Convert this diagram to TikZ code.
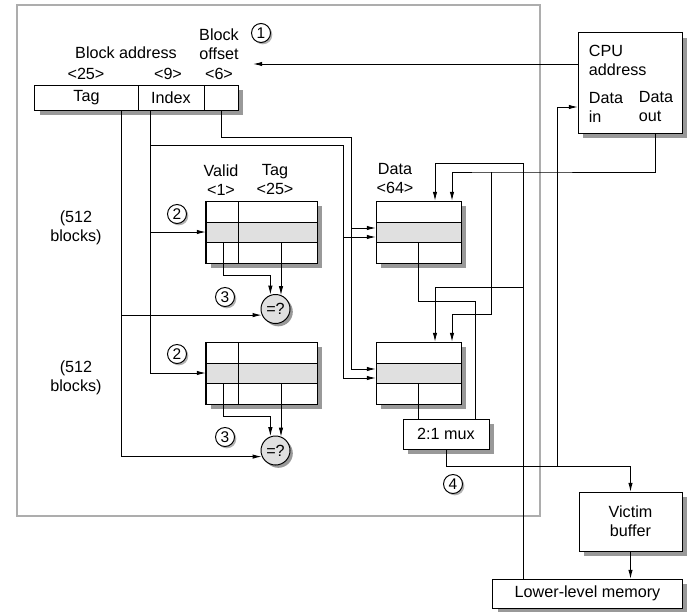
\documentclass[tikz,border=0pt]{standalone}
\usepackage{fontspec}
\setmainfont{Liberation Sans}
\usepackage{tikz}
\usetikzlibrary{arrows.meta,calc,shadows}
\tikzset{
  block/.style={
    draw,
    fill=white,
    inner sep=0,
    outer sep=0,
    drop shadow={shadow xshift=3.5pt, shadow yshift=-3.5pt, fill=black!40, opacity=1}
  },
  num/.style={
    draw,
    circle,
    fill=white,
    inner sep=0,
    minimum size=0.475cm,
    font=\fontsize{11}{13}\selectfont,
    drop shadow={shadow xshift=1.3pt, shadow yshift=-1.3pt, fill=black!30, opacity=1}
  },
  cmp/.style={
    draw,
    circle,
    fill=black!12,
    inner sep=0,
    minimum size=0.725cm,
    drop shadow={shadow xshift=2pt, shadow yshift=-2pt, fill=black!40, opacity=1}
  },
  lbl/.style={
    inner sep=1pt,
    align=center
  },
  arr/.style={-{Latex[length=2.3mm,width=1.1mm]}},
  rowfill/.style={fill=black!12},
  frame/.style={draw=black!32, line width=2pt}
}
\tikzset{
  tagarr/.pic={
    \node[block, minimum width=2.775cm, minimum height=1.55cm] (-box) at (55.5,31) {};
    \fill[rowfill] (0,21) rectangle (111,41);
    \draw (0,0) rectangle (111,62) (0,21) -- (111,21) (0,41) -- (111,41) (32,0) -- (32,62);
    \coordinate (-v) at (17,41);
    \coordinate (-t) at (75,41);
  },
  dataarr/.pic={
    \node[block, minimum width=2.125cm, minimum height=1.55cm] (-box) at (42.5,31) {};
    \fill[rowfill] (0,21) rectangle (85,41);
    \draw (0,0) rectangle (85,62) (0,21) -- (85,21) (0,41) -- (85,41);
    \coordinate (-o) at (42,41);
    \coordinate (-a) at (0,27);
    \coordinate (-b) at (0,36);
    \coordinate (-m) at (59,0);
    \coordinate (-d) at (76,0);
  }
}

\begin{document}
\begin{tikzpicture}[x=0.025cm, y=-0.025cm, line width=0.7pt, font=\fontsize{11.5}{13.5}\selectfont]
        \useasboundingbox (0,0) rectangle (689,611);
        \draw[frame] (17,5) rectangle (540,516);
        % address
        \node[block, minimum width=2.575cm, minimum height=0.625cm] (tagf) at (86.5,97.5) {Tag};
        \node[block, minimum width=1.65cm, minimum height=0.625cm] (idxf) at (171,97.5) {Index};
        \node[block, minimum width=0.85cm, minimum height=0.625cm] (offf) at (221,97.5) {};
        \node[lbl] (blkaddr) at (126,53) {Block address};
        \node[lbl] (w25) at (86,74) {<25>};
        \node[lbl] (w9) at (168,74) {<9>};
        \node[lbl] (w6) at (219,74) {<6>};
        \node[lbl] (blkoff) at (219,44) {Block\\offset};
        \node[num] (n1) at (261,33) {1};
        % arrays
        \pic (ta1) at (206,201) {tagarr};
        \pic (ta2) at (206,342) {tagarr};
        \pic (da1) at (376,201) {dataarr};
        \pic (da2) at (376,342) {dataarr};
        \node[lbl] (valid) at (221,180) {Valid\\<1>};
        \node[lbl] (tagw) at (275,180) {Tag\\<25>};
        \node[lbl] (dataw) at (395,179) {Data\\<64>};
        \node[lbl] (blk1) at (76,228) {(512\\blocks)};
        \node[lbl] (blk2) at (76,378) {(512\\blocks)};
        \node[cmp] (cmp1) at (275.5,309) {=?};
        \node[cmp] (cmp2) at (275.5,450.5) {=?};
        \node[num] (n2a) at (177,214) {2};
        \node[num] (n2b) at (177,354) {2};
        \node[num] (n3a) at (225,297) {3};
        \node[num] (n3b) at (225,437) {3};
        \node[num] (n4) at (453,484) {4};
        \node[block, minimum width=2.15cm, minimum height=0.75cm] (mux) at (446,434) {2:1 mux};
        % outside
        \node[block, minimum width=2.6cm, minimum height=2.5cm] (cpu) at (630,83) {};
        \node[lbl, anchor=west, align=left] (cpulbl) at (587,60) {CPU\\address};
        \node[lbl, anchor=west, align=left] (din) at (587,107) {Data\\in};
        \node[lbl, anchor=west, align=left] (dout) at (637,107) {Data\\out};
        \node[block, minimum width=2.575cm, minimum height=1.475cm, align=center] (victim) at (630.5,521.5) {Victim\\buffer};
        \node[block, minimum width=4.725cm, minimum height=0.725cm] (mem) at (587.5,593.5) {Lower-level memory};
        % bus points
        \coordinate (addrin) at (253,64);
        \coordinate (tagbus) at (121,110);
        \coordinate (idxbus) at (150,110);
        \coordinate (idxd) at (343,145);
        \coordinate (offd) at (351,137);
        \coordinate (doutbus) at (491,172);
        \coordinate (membus) at (523,287);
        \coordinate (dinbus) at (557,466);
        % connectors
        \draw[arr] (cpu.west |- addrin) -- (addrin);
        \draw[arr] (tagbus) |- (cmp1.204);
        \draw[arr] (tagbus) |- (cmp2.204);
        \draw[arr] (idxbus) |- (ta1-box.west);
        \draw[arr] (idxbus) |- (ta2-box.west);
        \draw[arr] (idxbus) |- (idxd) |- (da1-b);
        \draw[arr] (idxd) |- (da2-b);
        \draw[arr] (offf.south) |- (offd) |- (da1-a);
        \draw[arr] (offd) |- (da2-a);
        \draw[arr] (ta1-v) -- ++(0,33) -| (cmp1.110);
        \draw[arr] (ta1-t) -- (ta1-t |- cmp1.65);
        \draw[arr] (ta2-v) -- ++(0,33) -| (cmp2.110);
        \draw[arr] (ta2-t) -- (ta2-t |- cmp2.65);
        \draw (da1-o) -- ++(0,59) -| ($(mux.north)+(29,0)$);
        \draw (da2-o) -- (da2-o |- mux.north);
        \draw[arr] (cpu.south -| dout) |- (doutbus) -| (da1-d);
        \draw[arr] (doutbus) -- ++(0,142) -| (da2-d);
        \draw[arr] (mem.north -| membus) -- ++(0,-416) -| (da1-m);
        \draw[arr] (membus) -| (da2-m);
        \draw[arr] (mux.south) -- ++(0,17) -| (victim.north);
        \draw[arr] (dinbus) |- (cpu.west |- din);
        \draw[arr] (victim.south) -- (victim.south |- mem.north);
    \end{tikzpicture}
\end{document}
